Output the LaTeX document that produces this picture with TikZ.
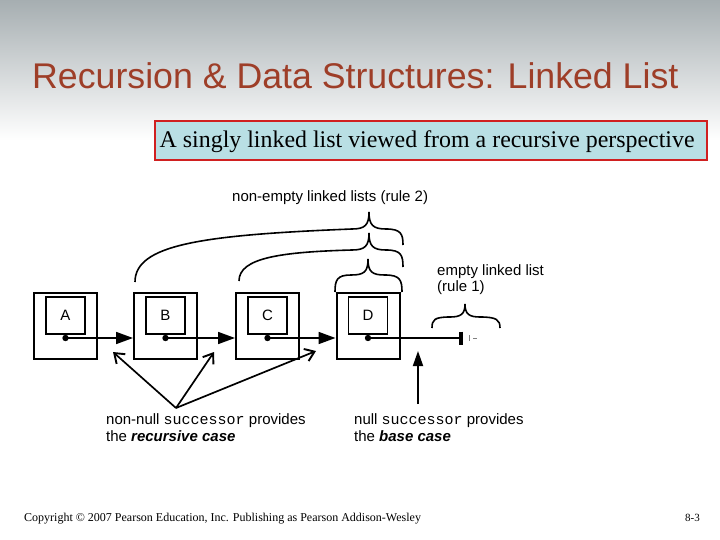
\documentclass[tikz,border=0pt]{standalone}
\usepackage{fontspec}
\setmainfont{Liberation Sans}
\newfontfamily\tnr{Liberation Serif}
\newfontfamily\cour{Liberation Mono}
\usetikzlibrary{arrows.meta}
\definecolor{titlecol}{RGB}{158,62,40}
\definecolor{subfill}{RGB}{185,223,228}
\definecolor{subline}{RGB}{208,32,32}
\definecolor{bgtop}{RGB}{166,174,177}
\tikzset{
  outerbox/.style={draw,line width=2pt,minimum width=63pt,minimum height=66pt,inner sep=0pt},
  innerbox/.style={draw,line width=1.6pt,minimum width=39pt,minimum height=37pt,inner sep=0pt,font=\fontsize{15}{18}\selectfont},
  ptr/.style={line width=1.7pt,-{Triangle[length=17pt,width=12pt]}},
  callout/.style={line width=1.7pt,-{Straight Barb[length=9pt,width=13pt,line width=1.9pt]}},
  basecall/.style={line width=1.8pt,-{Triangle[length=15pt,width=10pt]}},
  brace/.style={line width=1.6pt},
  lbl/.style={inner sep=0pt,anchor=base west,font=\fontsize{15}{17}\selectfont}
}
\begin{document}
\begin{tikzpicture}[x=1pt,y=-1pt]
\useasboundingbox (0,0) rectangle (720,540);
\fill[white] (0,0) rectangle (720,540);
\shade[top color=bgtop,bottom color=white] (0,0) rectangle (720,140);
% title
\node[inner sep=0pt,anchor=base west,text=titlecol,font=\fontsize{35.7}{40}\selectfont] (title) at (32,89) {Recursion \& Data Structures: Linked List};
% subtitle
\node[draw=subline,line width=2.8pt,fill=subfill,minimum width=552pt,minimum height=39pt,inner sep=0pt] (sub) at (431,140.5) {};
\node[inner sep=0pt,anchor=west,font=\tnr\fontsize{23.9}{26}\selectfont] (subtext) at (159.5,141.5) {A singly linked list viewed from a recursive perspective};
% boxes
\foreach \n/\x in {A/65.5,B/165.5,C/267.5,D/368} {
  \node[outerbox] (o\n) at (\x,326) {};
  \node[innerbox] (i\n) at (\x,315.5) {\n};
  \coordinate (d\n) at (\x,338);
  \fill (d\n) circle (3.2pt);
}
\draw[ptr] (dA) -- (dA -| oB.west);
\draw[ptr] (dB) -- (dB -| oC.west);
\draw[ptr] (dC) -- (dC -| oD.west);
% null end
\coordinate (nullend) at (461,338);
\draw[line width=1.7pt] (dD) -- (nullend);
\draw[line width=3.2pt] (461,331.5) -- (461,345);
\draw[line width=0.7pt,gray] (469,335) -- (469,341) (473,338.5) -- (477,338.5);
% braces above D
\draw[brace] (368,259) .. controls (368,272) and (372,275) .. (385,275) .. controls (400,275) and (402,280) .. (402,292);
\draw[brace] (368,259) .. controls (368,272) and (364,275) .. (351,275) .. controls (337,275) and (335,280) .. (335,292);
% middle brace (C..D)
\draw[brace] (369,233) .. controls (369,246) and (373,250) .. (386,250) .. controls (401,250) and (403,255) .. (403,267);
\draw[brace] (369,233) .. controls (369,246) and (365,250) .. (352,250) .. controls (280,252) and (239,258) .. (239,281);
% top brace (B..D)
\draw[brace] (369,212) .. controls (369,225) and (373,229) .. (386,229) .. controls (401,229) and (403,234) .. (403,245);
\draw[brace] (369,212) .. controls (369,225) and (365,229) .. (352,229) .. controls (200,235) and (135,245) .. (135,282);
% empty list brace
\draw[brace] (465,304) .. controls (465,314) and (469,317) .. (480,317) .. controls (497,317) and (500,320) .. (500,328);
\draw[brace] (465,304) .. controls (465,314) and (461,317) .. (450,317) .. controls (434,317) and (432,320) .. (432,328);
% labels
\node[lbl] (rule2) at (232,202) {non-empty linked lists (rule 2)};
\node[lbl] (rule1a) at (437,275) {empty linked list};
\node[lbl] (rule1b) at (437,291) {(rule 1)};
\node[lbl] (rec1) at (106,424) {non-null {\cour successor} provides};
\node[lbl] (rec2) at (106,441) {the \textbf{\itshape recursive case}};
\node[lbl] (base1) at (354,424) {null {\cour successor} provides};
\node[lbl] (base2) at (354,441) {the \textbf{\itshape base case}};
% callout arrows
\coordinate (apex) at (176,408);
\coordinate (t1) at (113,352);
\coordinate (t2) at (214,352);
\coordinate (t3) at (316,351);
\draw[callout] (apex) -- (t1);
\draw[callout] (apex) -- (t2);
\draw[callout] (apex) -- (t3);
\coordinate (bstart) at (418,404);
\coordinate (btip) at (418,351);
\draw[basecall] (bstart) -- (btip);
% footer
\node[inner sep=0pt,anchor=base west,font=\tnr\fontsize{12}{14}\selectfont] (copy) at (24,521) {Copyright \textcopyright{} 2007 Pearson Education, Inc. Publishing as Pearson Addison-Wesley};
\node[inner sep=0pt,anchor=base east,font=\tnr\fontsize{11}{13}\selectfont] (page) at (700,521) {8-3};
\end{tikzpicture}
\end{document}
